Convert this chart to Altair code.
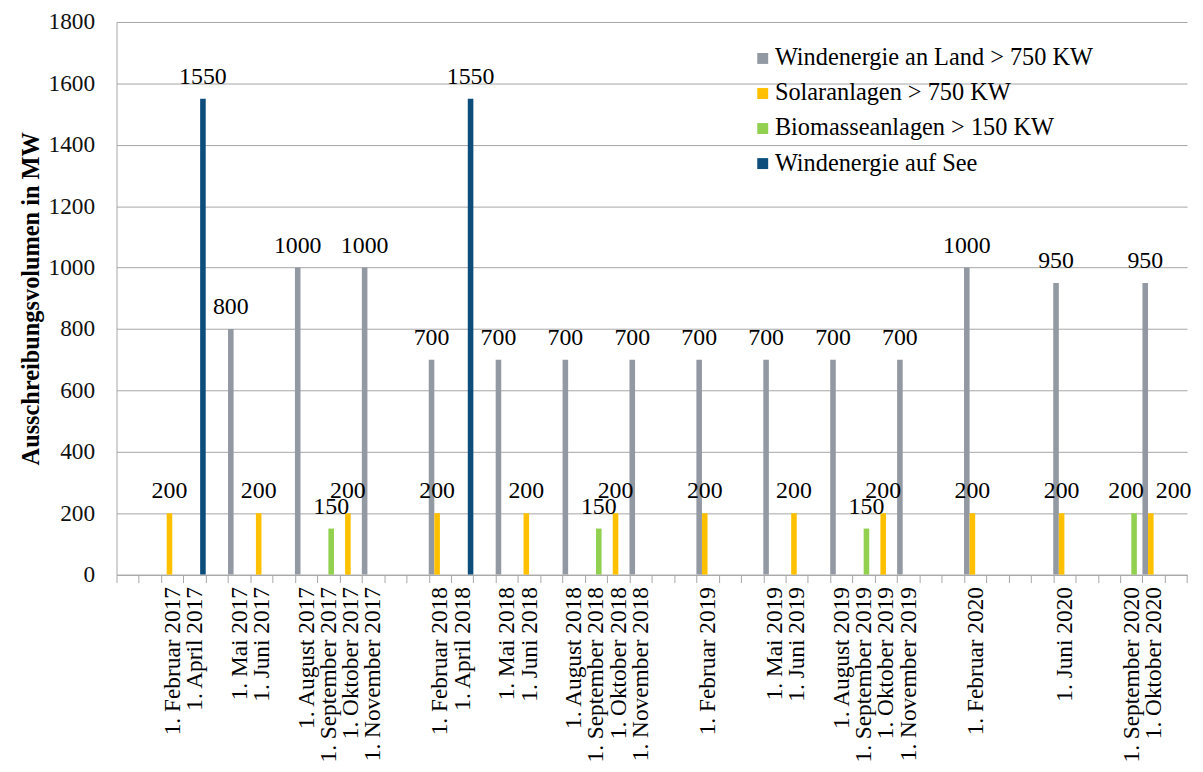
import altair as alt
import pandas as pd

# x-axis category slots (empty strings are unlabeled slots of the axis)
slots = ["", "", "1. Februar 2017", "1. April 2017", "", "1. Mai 2017", "1. Juni 2017", "",
         "1. August 2017", "1. September 2017", "1. Oktober 2017", "1. November 2017", "", "",
         "1. Februar 2018", "1. April 2018", "", "1. Mai 2018", "1. Juni 2018", "",
         "1. August 2018", "1. September 2018", "1. Oktober 2018", "1. November 2018", "", "",
         "1. Februar 2019", "", "", "1. Mai 2019", "1. Juni 2019", "",
         "1. August 2019", "1. September 2019", "1. Oktober 2019", "1. November 2019", "", "",
         "1. Februar 2020", "", "", "", "1. Juni 2020", "", "",
         "1. September 2020", "1. Oktober 2020", ""]

dates = [s for s in slots if s]

series = ["Windenergie an Land > 750 KW", "Solaranlagen > 750 KW",
          "Biomasseanlagen > 150 KW", "Windenergie auf See"]
colors = ["#9399A3", "#FFC000", "#92D050", "#0C4D7C"]

wind_land = [None, None, 800, None, 1000, None, None, 1000, 700, None, 700, None, 700, None,
             None, 700, 700, 700, None, 700, None, None, 700, 1000, 950, None, 950]
solar = [200, None, None, 200, None, None, 200, None, 200, None, None, 200, None, None,
         200, None, 200, None, 200, None, None, 200, None, 200, 200, None, 200]
biomasse = [None, None, None, None, None, 150, None, None, None, None, None, None, None, 150,
            None, None, None, None, None, None, 150, None, None, None, None, 200, None]
wind_see = [None, 1550, None, None, None, None, None, None, None, 1550, None, None, None, None,
            None, None, None, None, None, None, None, None, None, None, None, None, None]

rows = []
for name, vals in zip(series, [wind_land, solar, biomasse, wind_see]):
    for d, v in zip(dates, vals):
        if v is not None:
            rows.append({"date": d, "series": name, "value": v})
df = pd.DataFrame(rows)

x_domain = [s if s else f"_{i}" for i, s in enumerate(slots)]

FONT = "Liberation Serif"
GRID = "#A6A6A6"

x_enc = alt.X(
    "date:N",
    scale=alt.Scale(domain=x_domain, paddingInner=0, paddingOuter=0),
    axis=alt.Axis(
        title=None, labelAngle=-90, labelAlign="right", labelBaseline="middle",
        labelExpr="(datum.value == null || indexof(datum.value, '_') == 0) ? '' : datum.value",
        tickBand="extent", tickSize=8, tickColor=GRID, domainColor=GRID,
        labelPadding=4, labelOverlap=False, labelFont=FONT, labelFontSize=23.5,
        labelColor="#000000", labelLimit=0,
    ),
)
xoff = alt.XOffset("series:N", scale=alt.Scale(domain=series, paddingInner=0, paddingOuter=0))
y_enc = alt.Y(
    "value:Q",
    stack=None,
    scale=alt.Scale(domain=[0, 1800], nice=False),
    axis=alt.Axis(
        values=list(range(0, 1801, 200)), format="d", grid=True, gridColor=GRID,
        domainColor=GRID, ticks=False, labelPadding=22, labelFont=FONT, labelFontSize=23.5,
        labelColor="#111111",
        title="Ausschreibungsvolumen in MW", titleFont=FONT, titleFontSize=24.5,
        titleFontWeight="bold", titleColor="#000000", titlePadding=5,
    ),
)

base = alt.Chart(df)

bars = base.mark_bar().encode(
    x=x_enc, xOffset=xoff, y=y_enc,
    color=alt.Color(
        "series:N", scale=alt.Scale(domain=series, range=colors),
        legend=alt.Legend(
            orient="none", legendX=638.7, legendY=24.5, title=None, symbolType="square",
            symbolSize=121, symbolStrokeWidth=0, labelFont=FONT, labelFontSize=24.5,
            labelColor="#000000", rowPadding=10.3, labelOffset=0, padding=0, labelLimit=0,
        ),
    ),
)

is_left = "datum.date == '1. September 2020'"
is_right = "datum.date == '1. Oktober 2020' && datum.series == 'Solaranlagen > 750 KW'"


def labels(dx, filt):
    return base.transform_filter(filt).mark_text(
        font=FONT, fontSize=24, color="#000000", baseline="alphabetic", dy=-15, dx=dx
    ).encode(x=x_enc, xOffset=xoff, y=y_enc, text=alt.Text("value:Q", format="d"))


text_main = labels(0, f"!({is_left}) && !({is_right})")
text_l = labels(-8, is_left)
text_r = labels(23, is_right)

chart = alt.layer(bars, text_main, text_l, text_r).properties(
    width=1078.4, height=556.7,
    autosize=alt.AutoSizeParams(type="none"),
    padding={"left": 109.3, "top": 11.3, "right": 8, "bottom": 190},
).configure_view(stroke=None)

chart.save("out.html", embed_options={"renderer": "svg", "actions": False})
